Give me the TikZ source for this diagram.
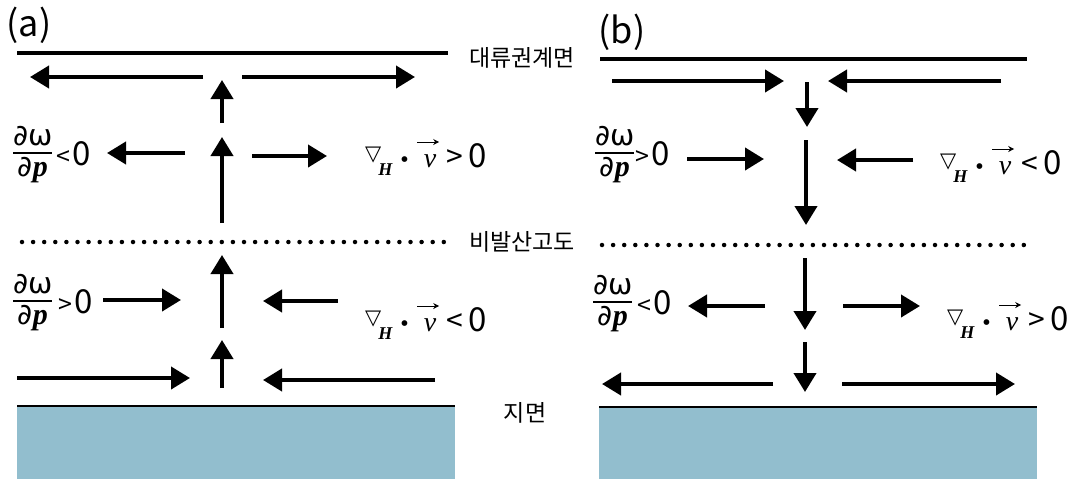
\documentclass[tikz,border=0pt]{standalone}
\usepackage{fontspec}
\setmainfont{Liberation Serif}
\newfontfamily\kr{Noto Sans CJK KR}
\newfontfamily\dv{DejaVu Sans}
\usetikzlibrary{arrows.meta}
\definecolor{ground}{RGB}{146,190,206}
\newcommand\fsz[1]{\fontsize{#1}{#1}\selectfont}
\newcommand\fracbox[2]{\raisebox{-11pt}{\vbox{\halign{\hfil##\hfil\cr #1\cr\noalign{\kern6pt\hrule height 1.5pt\kern3pt}#2\cr}}}}
\newcommand\dwdp{\fracbox{\dv\fsz{29}∂ω}{\dv\fsz{29}∂{\rmfamily\fsz{30}\bfseries\itshape p}}}
\newcommand\fraclab[2]{\dwdp\hspace{#2}{\kr\fsz{25}#1}\hspace{2pt}{\kr\fsz{33}0}}
\newcommand\vecv{\leavevmode\rlap{\raisebox{22pt}{\kern-7pt\tikz[x=1pt,y=1pt]\draw[line width=0.9pt,-{Stealth[length=6pt,width=6pt]}](0,0)--(22,0);}}{\fsz{28}\itshape v}}
\newcommand\divlab[1]{{\dv\fsz{21}\raisebox{7pt}{▽}}\kern-3pt\raisebox{-8pt}{\fsz{18}\bfseries\itshape H}\hspace{8pt}{\fsz{24}•}\hspace{15pt}\vecv\hspace{10pt}{\kr\fsz{30}#1}\hspace{6pt}{\kr\fsz{33}0}}
\tikzset{
  flow/.style={line width=4pt,-{Triangle[length=19pt,width=22pt]}},
  lid/.style={line width=3.5pt},
  mid/.style={line width=4.5pt,line cap=round,dash pattern=on 0pt off 11.1pt},
  lab/.style={inner sep=0pt,anchor=base west},
  kor/.style={inner sep=0pt,font=\kr\fsz{23}},
  panel/.style={inner sep=0pt,font=\kr\fsz{36}}
}
\begin{document}
\begin{tikzpicture}[x=1pt,y=-1pt]
\useasboundingbox (0,0) rectangle (1086,479);
% ---------- panel (a)
\node[panel] (pa) at (29,25) {(a)};
\draw[lid] (17,53) -- (448,53);
\draw[mid] (22,242) -- (446,242);
\fill[ground] (17,406) rectangle (455,479);
\draw[line width=2pt] (17,406) -- (455,406);
\node[kor] (tropo) at (522,58) {대류권계면};
\node[kor] (lnd) at (522,242) {비발산고도};
\node[kor] (sfc) at (525,413) {지면};
\node[lab] (fa1) at (13,165) {\fraclab{<}{4pt}};
\node[lab] (fa2) at (13,313) {\fraclab{>}{6pt}};
\node[lab] (da1) at (365,167) {\divlab{>}};
\node[lab] (da2) at (365,331) {\divlab{<}};
\draw[flow] (203,77) -- (30,77);
\draw[flow] (242,77) -- (415,77);
\draw[flow] (222,123) -- (222,80);
\draw[flow] (185,153) -- (107,153);
\draw[flow] (222,223) -- (222,137);
\draw[flow] (252,156) -- (327,156);
\draw[flow] (103,300) -- (181,300);
\draw[flow] (222,328) -- (222,255);
\draw[flow] (338,301) -- (263,301);
\draw[flow] (17,378) -- (190,378);
\draw[flow] (222,388) -- (222,340);
\draw[flow] (435,380) -- (263,380);
% ---------- panel (b)
\node[panel] (pb) at (622,32) {(b)};
\draw[lid] (600,59) -- (1027,59);
\draw[mid] (602,245) -- (1028,245);
\fill[ground] (599,407) rectangle (1037,479);
\draw[line width=2pt] (599,407) -- (1037,407);
\node[lab] (fb1) at (595,165) {\fraclab{>}{1pt}};
\node[lab] (fb2) at (593,314) {\fraclab{<}{5pt}};
\node[lab] (db1) at (940,174) {\divlab{<}};
\node[lab] (db2) at (947,330) {\divlab{>}};
\draw[flow] (612,81) -- (784,81);
\draw[flow] (1001,81) -- (828,81);
\draw[flow] (807,82) -- (807,127);
\draw[flow] (687,159) -- (764,159);
\draw[flow] (806,140) -- (806,225);
\draw[flow] (913,160) -- (837,160);
\draw[flow] (805,258) -- (805,330);
\draw[flow] (765,306) -- (688,306);
\draw[flow] (843,306) -- (920,306);
\draw[flow] (805,342) -- (805,392);
\draw[flow] (773,384) -- (602,384);
\draw[flow] (842,384) -- (1015,384);
\end{tikzpicture}
\end{document}
